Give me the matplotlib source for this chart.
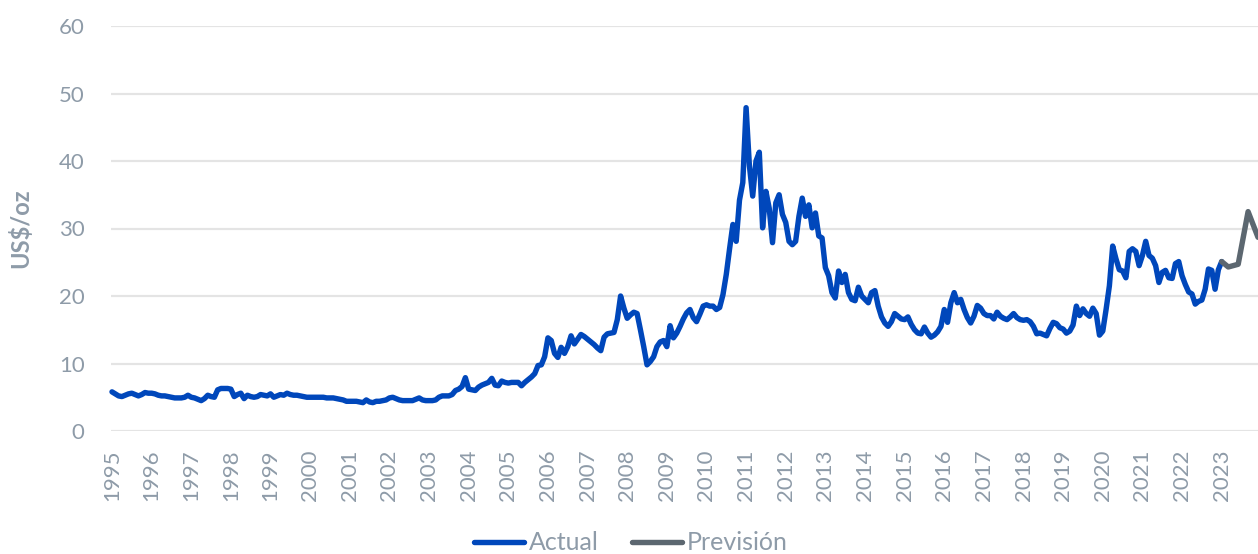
import numpy as np
import pandas as pd
import matplotlib
matplotlib.use("Agg")
import matplotlib.pyplot as plt

# Precio mensual de la plata (US$/oz), ene-1995 .. ene-2023
start_month = "1995-01"
actual = [
    5.8, 5.5, 5.2, 5.1, 5.3, 5.5, 5.6, 5.4, 5.2, 5.4, 5.7, 5.6,        # 1995
    5.6, 5.5, 5.3, 5.2, 5.2, 5.1, 5.0, 4.9, 4.9, 4.9, 5.0, 5.3,        # 1996
    5.0, 4.9, 4.7, 4.5, 4.8, 5.3, 5.1, 5.0, 6.1, 6.3, 6.3, 6.3,        # 1997
    6.2, 5.1, 5.4, 5.6, 4.8, 5.3, 5.1, 5.0, 5.1, 5.4, 5.3, 5.2,        # 1998
    5.5, 5.0, 5.2, 5.4, 5.3, 5.6, 5.4, 5.3, 5.3, 5.2, 5.1, 5.0,        # 1999
    5.0, 5.0, 5.0, 5.0, 5.0, 4.9, 4.9, 4.9, 4.8, 4.7, 4.6, 4.4,        # 2000
    4.4, 4.4, 4.4, 4.3, 4.2, 4.6, 4.3, 4.2, 4.4, 4.4, 4.5, 4.6,        # 2001
    4.9, 5.0, 4.8, 4.6, 4.5, 4.5, 4.5, 4.5, 4.7, 4.9, 4.6, 4.5,        # 2002
    4.5, 4.5, 4.6, 5.0, 5.2, 5.2, 5.2, 5.4, 6.0, 6.2, 6.6, 7.9,        # 2003
    6.2, 6.1, 6.0, 6.5, 6.8, 7.0, 7.2, 7.8, 6.8, 6.7, 7.4, 7.2,        # 2004
    7.1, 7.2, 7.2, 7.2, 6.7, 7.2, 7.6, 8.0, 8.5, 9.7, 9.8, 11.0,       # 2005
    13.8, 13.4, 11.5, 10.9, 12.4, 11.5, 12.5, 14.1, 12.9, 13.6, 14.3, 14.0,  # 2006
    13.6, 13.2, 12.8, 12.3, 11.9, 13.9, 14.4, 14.5, 14.6, 16.5, 20.0, 18.2,  # 2007
    16.7, 17.2, 17.6, 17.4, 15.0, 12.5, 9.8, 10.3, 11.0, 12.5, 13.2, 13.4,   # 2008
    12.5, 15.6, 13.8, 14.5, 15.5, 16.6, 17.5, 18.0, 16.8, 16.2, 17.3, 18.5,  # 2009
    18.7, 18.5, 18.5, 18.0, 18.3, 20.2, 23.2, 27.0, 30.6, 28.1, 34.2, 36.8,  # 2010
    47.9, 39.3, 34.8, 40.0, 41.3, 30.1, 35.5, 33.0, 27.9, 33.8, 35.0, 32.1,  # 2011
    30.9, 28.1, 27.6, 28.1, 31.8, 34.5, 31.8, 33.5, 30.1, 32.3, 28.9, 28.6,  # 2012
    24.2, 23.0, 20.5, 19.7, 23.7, 22.0, 23.2, 20.5, 19.5, 19.3, 21.3, 20.0,  # 2013
    19.5, 19.0, 20.5, 20.8, 18.5, 16.9, 16.0, 15.5, 16.2, 17.4, 17.0, 16.6,  # 2014
    16.5, 16.9, 15.8, 15.0, 14.5, 14.4, 15.4, 14.5, 13.9, 14.2, 14.7, 15.5,  # 2015
    18.0, 16.1, 19.0, 20.5, 19.0, 19.5, 18.0, 16.8, 16.0, 17.0, 18.6, 18.2,  # 2016
    17.4, 17.1, 17.1, 16.6, 17.6, 17.0, 16.7, 16.5, 16.9, 17.4, 16.8, 16.5,  # 2017
    16.4, 16.5, 16.2, 15.5, 14.4, 14.5, 14.3, 14.1, 15.2, 16.1, 15.9, 15.3,  # 2018
    15.1, 14.5, 14.8, 15.7, 18.5, 17.1, 18.1, 17.4, 17.0, 18.2, 17.4, 14.2,  # 2019
    14.8, 18.0, 21.5, 27.4, 25.5, 23.9, 23.7, 22.7, 26.6, 27.0, 26.6, 24.5,  # 2020
    26.0, 28.1, 26.0, 25.6, 24.5, 22.0, 23.5, 23.8, 22.7, 22.6, 24.8, 25.1,  # 2021
    23.0, 21.7, 20.6, 20.3, 18.8, 19.2, 19.4, 21.0, 24.0, 23.8, 21.0, 23.9,  # 2022
    25.1,                                                                   # 2023
]

# Previsión
forecast_months = ["2023-01", "2023-03", "2023-06", "2023-09", "2023-12"]
forecast_values = [25.1, 24.3, 24.7, 32.5, 28.7]

years = list(range(1995, 2024))

blue = "#0047BB"
grey = "#5C6770"
text_c = "#8E9BA8"

plt.rcParams["font.family"] = ["Lato", "DejaVu Sans"]

base = pd.Period(start_month, freq="M")
x_act = np.arange(len(actual))
x_fc = [(pd.Period(m, freq="M") - base).n for m in forecast_months]
x_end = x_fc[-1]

fig = plt.figure(figsize=(12.58, 5.54), dpi=100)
ax = fig.add_axes([111 / 1258, 123 / 554, 1147 / 1258, 405 / 554])

ax.plot(x_act, actual, color=blue, lw=3.9, solid_joinstyle="round",
        solid_capstyle="round", label="Actual", clip_on=False)
ax.plot(x_fc, forecast_values, color=grey, lw=3.9, solid_joinstyle="round",
        solid_capstyle="round", label="Previsión", clip_on=False)

ax.set_xlim(-0.3, x_end)
ax.set_ylim(0, 60)
ax.set_yticks(range(0, 61, 10))
ax.set_xticks([12 * k for k in range(len(years))])
ax.set_xticklabels([str(y) for y in years], rotation=90)

ax.yaxis.grid(True, color="#E4E4E4", lw=1.6)
ax.set_axisbelow(True)
for s in ax.spines.values():
    s.set_visible(False)
ax.tick_params(axis="both", length=0, labelsize=16, labelcolor=text_c)
ax.tick_params(axis="x", pad=13)
ax.tick_params(axis="y", pad=19)

ax.set_ylabel("US$/oz", fontsize=17, fontweight="bold", color=text_c)
ax.yaxis.set_label_coords(-0.0689, 0.5)

fig.legend(loc="center", bbox_to_anchor=(631 / 1258, 1 - 543 / 554), ncol=2,
           frameon=False, fontsize=18, handlelength=2.0, handletextpad=0.2,
           columnspacing=1.3, labelcolor=text_c)

fig.savefig("out.png", dpi=100)
